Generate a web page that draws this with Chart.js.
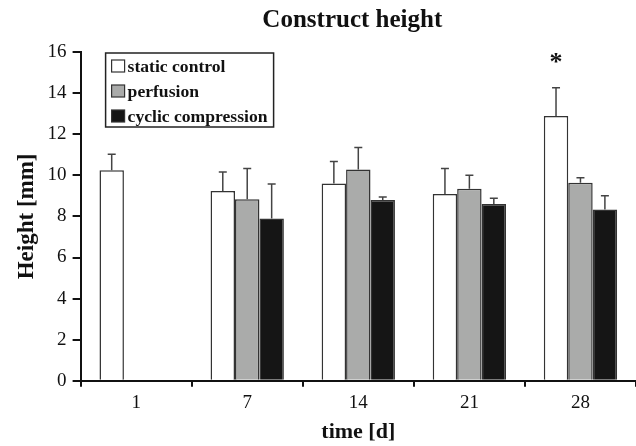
<!DOCTYPE html>
<html>
<head>
<meta charset="utf-8">
<script src="https://cdn.jsdelivr.net/npm/chart.js@4"></script>
<style>
  html, body { margin: 0; padding: 0; background: #fff; }
  #wrap { width: 636px; height: 446px; }
</style>
</head>
<body>
<div id="wrap"><canvas id="chart" width="636" height="446"></canvas></div>
<script>
// ── datos ──
const categories = ['1', '7', '14', '21', '28'];
const staticMean = [10.24, 9.23, 9.6, 9.09, 12.89];
const staticErr  = [0.78, 0.93, 1.07, 1.24, 1.37];
const perfMean   = [null, 8.83, 10.28, 9.35, 9.64];
const perfErr    = [null, 1.5, 1.07, 0.65, 0.24];
const cyclicMean = [null, 7.9, 8.8, 8.6, 8.33];
const cyclicErr  = [null, 1.68, 0.14, 0.28, 0.67];
const significance = ['', '', '', '', '*'];
const yMin = 0, yMax = 16, yStep = 2;
const chartTitle = 'Construct height';

const SERIF = "'Liberation Serif', 'Times New Roman', serif";

// ── barras de error (solo hacia arriba) ──
const errorBars = {
  id: 'errorBars',
  afterDatasetsDraw(chart) {
    const { ctx, scales: { y } } = chart;
    ctx.save();
    ctx.strokeStyle = '#444';
    ctx.lineWidth = 1.5;
    chart.data.datasets.forEach((ds, i) => {
      const meta = chart.getDatasetMeta(i);
      meta.data.forEach((el, j) => {
        const v = ds.data[j], e = ds.errors[j];
        if (v == null || e == null) return;
        const yTop = y.getPixelForValue(v + e);
        ctx.beginPath();
        ctx.moveTo(el.x, el.y);
        ctx.lineTo(el.x, yTop);
        ctx.moveTo(el.x - 4, yTop);
        ctx.lineTo(el.x + 4, yTop);
        ctx.stroke();
      });
    });
    // asterisco de significancia
    const meta0 = chart.getDatasetMeta(0);
    ctx.fillStyle = '#111';
    ctx.font = `bold 26px ${SERIF}`;
    ctx.textAlign = 'center';
    ctx.textBaseline = 'middle';
    significance.forEach((s, j) => {
      if (!s) return;
      const yTop = y.getPixelForValue(staticMean[j] + staticErr[j]);
      ctx.fillText(s, meta0.data[j].x, yTop - 24);
    });
    ctx.restore();
  }
};

// ── título centrado sobre el área del gráfico ──
const areaTitle = {
  id: 'areaTitle',
  afterDraw(chart) {
    const { ctx, chartArea } = chart;
    ctx.save();
    ctx.fillStyle = '#111';
    ctx.font = `bold 25px ${SERIF}`;
    ctx.textAlign = 'center';
    ctx.textBaseline = 'middle';
    ctx.fillText(chartTitle, (chartArea.left + chartArea.right) / 2 - 6, 21);
    ctx.restore();
  }
};

// ── leyenda con marco dentro del área ──
const boxLegend = {
  id: 'boxLegend',
  afterDraw(chart) {
    const { ctx, chartArea } = chart;
    const x0 = chartArea.left + 25, y0 = chartArea.top + 1;
    const w = 168, h = 74;
    ctx.save();
    ctx.fillStyle = '#fff';
    ctx.fillRect(x0, y0, w, h);
    ctx.strokeStyle = '#222';
    ctx.lineWidth = 1.5;
    ctx.strokeRect(x0, y0, w, h);
    ctx.font = `bold 17.6px ${SERIF}`;
    ctx.textBaseline = 'middle';
    chart.data.datasets.forEach((ds, i) => {
      const cy = y0 + 13 + i * 25;
      ctx.fillStyle = ds.backgroundColor;
      ctx.fillRect(x0 + 6, cy - 6, 13, 12);
      ctx.strokeStyle = '#333';
      ctx.lineWidth = 1.2;
      ctx.strokeRect(x0 + 6, cy - 6, 13, 12);
      ctx.fillStyle = '#111';
      ctx.fillText(ds.label, x0 + 22, cy + 1);
    });
    ctx.restore();
  }
};

new Chart(document.getElementById('chart'), {
  type: 'bar',
  data: {
    labels: categories,
    datasets: [
      { label: 'static control', data: staticMean, errors: staticErr, backgroundColor: '#ffffff' },
      { label: 'perfusion', data: perfMean, errors: perfErr, backgroundColor: '#aaabaa' },
      { label: 'cyclic compression', data: cyclicMean, errors: cyclicErr, backgroundColor: '#151515' }
    ].map(d => ({ ...d, borderColor: '#333', borderWidth: 1.5, categoryPercentage: 0.66, barPercentage: 1.0 }))
  },
  options: {
    responsive: false,
    animation: false,
    layout: { padding: { left: 13, right: 0, top: 52, bottom: 0 } },
    plugins: {
      legend: { display: false },
      tooltip: { enabled: false },
      title: { display: false }
    },
    scales: {
      x: {
        offset: true,
        grid: { display: true, drawOnChartArea: false, drawTicks: true, tickLength: 6, color: '#111', lineWidth: 2, offset: true },
        border: { display: true, color: '#111', width: 2 },
        ticks: { color: '#111', padding: 5, font: { family: SERIF, size: 19 } },
        title: { display: true, text: 'time [d]', color: '#111', padding: { top: 0, bottom: 0 }, font: { family: SERIF, size: 22, weight: 'bold' } }
      },
      y: {
        min: yMin, max: yMax,
        grid: { display: true, drawOnChartArea: false, drawTicks: true, tickLength: 8, color: '#111', lineWidth: 2 },
        border: { display: true, color: '#111', width: 2 },
        ticks: { stepSize: yStep, color: '#111', padding: 6, font: { family: SERIF, size: 19 } },
        title: { display: true, text: 'Height [mm]', color: '#111', padding: { top: 0, bottom: 1 }, font: { family: SERIF, size: 23, weight: 'bold' } }
      }
    }
  },
  plugins: [errorBars, areaTitle, boxLegend]
});
</script>
</body>
</html>
